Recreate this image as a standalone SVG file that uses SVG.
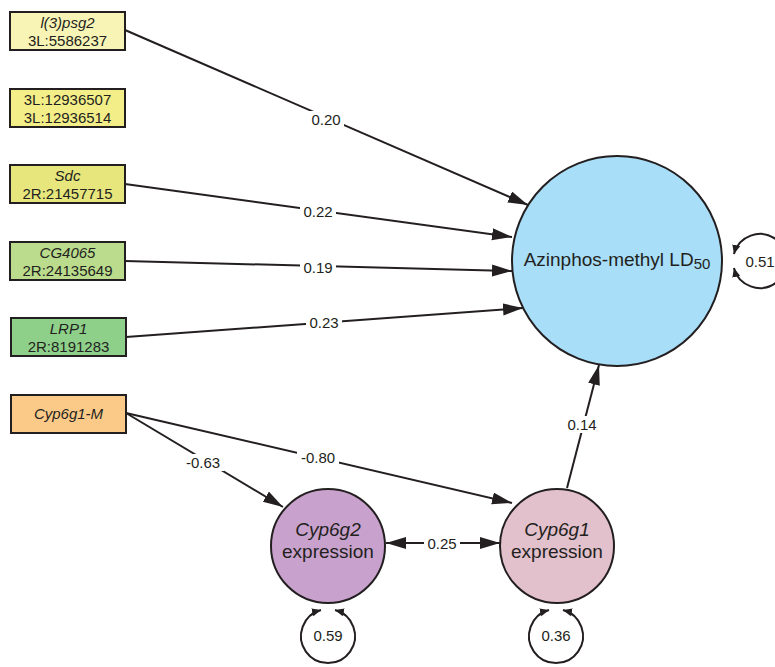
<svg xmlns="http://www.w3.org/2000/svg" width="775" height="667" viewBox="0 0 775 667">
<style>
.box{stroke:#231f20;stroke-width:2}
.node{stroke:#231f20;stroke-width:2}
.t{font-family:"Liberation Sans",Arial,sans-serif;fill:#231f20;text-anchor:middle}
.bt{font-size:15px}
.nt{font-size:19px}
.lbl{font-size:15px}
.e{fill:none;stroke:#231f20;stroke-width:2}
.lb{fill:#fff}
</style>
<defs>
<marker id="ah" markerUnits="userSpaceOnUse" markerWidth="22" markerHeight="14" refX="20" refY="6" orient="auto-start-reverse">
<path d="M0,0 L20,6 L0,12 z" fill="#231f20"/>
</marker>
<marker id="sh" markerUnits="userSpaceOnUse" markerWidth="12" markerHeight="10" refX="9" refY="4" orient="auto-start-reverse">
<path d="M0,0 L9,4 L0,8 z" fill="#231f20"/>
</marker>
</defs>

<g id="connectors">
<line class="e" x1="125" y1="30" x2="528" y2="205" marker-end="url(#ah)"/>
<line class="e" x1="125" y1="184" x2="512" y2="237" marker-end="url(#ah)"/>
<line class="e" x1="125" y1="261" x2="512" y2="271" marker-end="url(#ah)"/>
<line class="e" x1="126" y1="337" x2="523" y2="308" marker-end="url(#ah)"/>
<line class="e" x1="126" y1="413" x2="283" y2="507" marker-end="url(#ah)"/>
<line class="e" x1="126" y1="413" x2="512" y2="503" marker-end="url(#ah)"/>
<line class="e" x1="567" y1="488" x2="599" y2="365" marker-end="url(#ah)"/>
<line class="e" x1="386" y1="543" x2="500" y2="543" marker-start="url(#ah)" marker-end="url(#ah)"/>
<path class="e" d="M733.9,254 A27,27 0 1 1 733.9,268" marker-start="url(#sh)" marker-end="url(#sh)"/>
<path class="e" d="M321,610 A27,27 0 1 0 335,610" marker-start="url(#sh)" marker-end="url(#sh)"/>
<path class="e" d="M549,610 A27,27 0 1 0 563,610" marker-start="url(#sh)" marker-end="url(#sh)"/>
<g class="t lbl">
<rect class="lb" x="308" y="111" width="36" height="17"/><text x="326" y="124.5">0.20</text>
<rect class="lb" x="300" y="203" width="36" height="17"/><text x="318" y="216.5">0.22</text>
<rect class="lb" x="300" y="259" width="36" height="17"/><text x="318" y="272.5">0.19</text>
<rect class="lb" x="306" y="314" width="36" height="17"/><text x="324" y="327.5">0.23</text>
<rect class="lb" x="182" y="454" width="42" height="17"/><text x="203" y="467.5">-0.63</text>
<rect class="lb" x="297" y="449" width="42" height="17"/><text x="318" y="462.5">-0.80</text>
<rect class="lb" x="564" y="416" width="36" height="17"/><text x="582" y="429.5">0.14</text>
<rect class="lb" x="424" y="535" width="36" height="17"/><text x="442" y="548.5">0.25</text>
</g>
</g>

<g id="n1"><rect class="box" x="10" y="12" width="115" height="38" fill="#f8f4b6"/>
<text class="t bt" x="67.5" y="27.5" font-style="italic">l(3)psg2</text><text class="t bt" x="67.5" y="45.5">3L:5586237</text></g>
<g id="n2"><rect class="box" x="10" y="89" width="115" height="38" fill="#f4ee88"/>
<text class="t bt" x="67.5" y="104.5">3L:12936507</text><text class="t bt" x="67.5" y="122.5">3L:12936514</text></g>
<g id="n3"><rect class="box" x="10" y="165" width="115" height="38" fill="#e6e67c"/>
<text class="t bt" x="67.5" y="180.5" font-style="italic">Sdc</text><text class="t bt" x="67.5" y="198.5">2R:21457715</text></g>
<g id="n4"><rect class="box" x="10" y="242" width="115" height="38" fill="#badc8c"/>
<text class="t bt" x="67.5" y="257.5" font-style="italic">CG4065</text><text class="t bt" x="67.5" y="275.5">2R:24135649</text></g>
<g id="n5"><rect class="box" x="11" y="318" width="115" height="38" fill="#8ed08a"/>
<text class="t bt" x="68.5" y="333.5" font-style="italic">LRP1</text><text class="t bt" x="68.5" y="351.5">2R:8191283</text></g>
<g id="n6"><rect class="box" x="11" y="395" width="115" height="38" fill="#fcca88"/>
<text class="t bt" x="68.5" y="419" font-style="italic">Cyp6g1-M</text></g>

<g id="ld50"><circle class="node" cx="617" cy="261" r="105" fill="#a8def8"/>
<text class="t nt" x="617" y="266">Azinphos-methyl LD<tspan font-size="15" dy="3">50</tspan></text></g>
<g id="cyp6g2"><circle class="node" cx="328" cy="546" r="57" fill="#c8a2cc"/>
<text class="t nt" x="328" y="536" font-style="italic">Cyp6g2</text><text class="t nt" x="328" y="558">expression</text></g>
<g id="cyp6g1"><circle class="node" cx="557" cy="546" r="57" fill="#e2c0cc"/>
<text class="t nt" x="557" y="536" font-style="italic">Cyp6g1</text><text class="t nt" x="557" y="558">expression</text></g>

<g id="e_ld50"><text class="t lbl" x="760" y="267">0.51</text></g>
<g id="e_cyp6g2"><text class="t lbl" x="328" y="641">0.59</text></g>
<g id="e_cyp6g1"><text class="t lbl" x="556" y="641">0.36</text></g>
</svg>
